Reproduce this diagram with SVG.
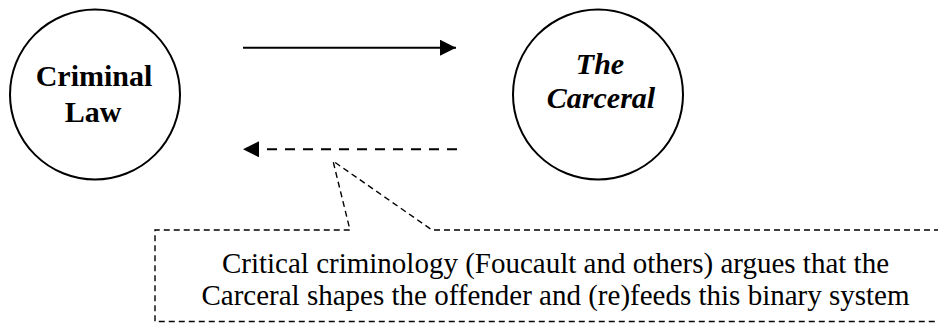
<svg xmlns="http://www.w3.org/2000/svg" width="938" height="326" viewBox="0 0 938 326">
  <style>
    .node { fill: #ffffff; stroke: #000000; stroke-width: 2; }
    .label { font-family: "Liberation Serif", "Times New Roman", serif; font-size: 30px; font-weight: bold; fill: #000000; text-anchor: middle; }
    .italic { font-style: italic; }
    .link { fill: none; stroke: #000000; stroke-width: 2; }
    .dashed { stroke-dasharray: 10 8; }
    .callout { fill: none; stroke: #000000; stroke-width: 1.4; stroke-dasharray: 6 4; }
    .note { font-family: "Liberation Serif", "Times New Roman", serif; font-size: 29px; fill: #000000; text-anchor: middle; }
  </style>
  <defs>
    <marker id="head" viewBox="0 0 16 16" refX="16" refY="8" markerWidth="16" markerHeight="16" markerUnits="userSpaceOnUse" orient="auto">
      <path d="M0,0 L16,8 L0,16 Z" fill="#000000"/>
    </marker>
  </defs>

  <rect width="938" height="326" fill="#ffffff"/>

  <!-- Criminal Law -->
  <g id="criminal-law">
    <circle class="node" cx="95" cy="94.5" r="85"/>
    <text class="label" x="94" y="86">Criminal</text>
    <text class="label" x="93" y="122">Law</text>
  </g>

  <!-- The Carceral -->
  <g id="carceral">
    <circle class="node" cx="598" cy="94.5" r="85"/>
    <text class="label italic" x="600" y="73.5">The</text>
    <text class="label italic" x="601" y="107.5">Carceral</text>
  </g>

  <!-- Connectors between the two nodes -->
  <g id="connectors">
    <line class="link" x1="243" y1="47.7" x2="456" y2="47.7" marker-end="url(#head)"/>
    <line class="link dashed" x1="457" y1="149.3" x2="243" y2="149.3" marker-end="url(#head)"/>
  </g>

  <!-- Annotation box with pointer to the feedback arrow -->
  <g id="critique-note">
    <path class="callout" d="M960,230 L432,230 L333,161 L350,230 L155,230 L155,321.5 L960,321.5"/>
    <text class="note" x="555.5" y="272.5">Critical criminology (Foucault and others) argues that the</text>
    <text class="note" x="555.5" y="304.5">Carceral shapes the offender and (re)feeds this binary system</text>
  </g>
</svg>
